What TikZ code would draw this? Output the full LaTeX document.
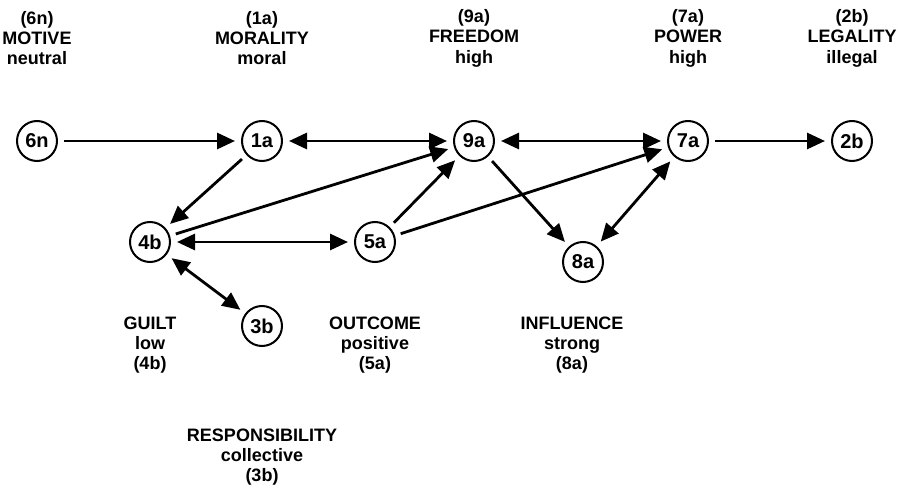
\documentclass[tikz,border=0pt]{standalone}
\usepackage{fontspec}
\setmainfont{Liberation Sans}
\usetikzlibrary{arrows.meta}

\tikzset{
  state/.style={circle, draw, line width=1pt, minimum size=20pt, inner sep=0pt,
    font=\bfseries\fontsize{10}{10}\selectfont},
  caption/.style={align=center, font=\bfseries\fontsize{9}{10.2}\selectfont},
  link/.style={line width=1.4pt, shorten >=3pt, shorten <=3pt},
  >={Triangle[length=9pt,width=8pt]}
}

\begin{document}
\begin{tikzpicture}[x=0.5pt, y=-0.5pt]
    \useasboundingbox (0,0) rectangle (901,498);

    % Nodes
    \node[state] at (37, 141) (6n) {6n};
    \node[state] at (262, 141) (1a) {1a};
    \node[state] at (474, 141) (9a) {9a};
    \node[state] at (688, 141) (7a) {7a};
    \node[state] at (852, 141) (2b) {2b};
    \node[state] at (150, 242) (4b) {4b};
    \node[state] at (375, 242) (5a) {5a};
    \node[state] at (583, 262) (8a) {8a};
    \node[state] at (262, 326) (3b) {3b};

    % Captions
    \node[caption] at (37, 38) (motive) {(6n)\\MOTIVE\\neutral};
    \node[caption] at (262, 38) (morality) {(1a)\\MORALITY\\moral};
    \node[caption] at (474, 38) (freedom) {(9a)\\FREEDOM\\high};
    \node[caption] at (688, 38) (power) {(7a)\\POWER\\high};
    \node[caption] at (852, 38) (legality) {(2b)\\LEGALITY\\illegal};
    \node[caption] at (150, 345) (guilt) {GUILT\\low\\(4b)};
    \node[caption] at (375, 345) (outcome) {OUTCOME\\positive\\(5a)};
    \node[caption] at (572, 345) (influence) {INFLUENCE\\strong\\(8a)};
    \node[caption] at (262, 457) (responsibility) {RESPONSIBILITY\\collective\\(3b)};

    % Links
    \draw[link, ->] (6n) edge (1a);
    \draw[link, <->] (1a) edge (9a);
    \draw[link, <->] (9a) edge (7a);
    \draw[link, ->] (7a) edge (2b);
    \draw[link, ->] (1a) edge (4b);
    \draw[link, ->] (4b) edge (9a);
    \draw[link, <->] (4b) edge (5a);
    \draw[link, <->] (4b) edge (3b);
    \draw[link, ->] (5a) edge (9a);
    \draw[link, ->] (5a) edge (7a);
    \draw[link, ->] (9a) edge (8a);
    \draw[link, <->] (8a) edge (7a);

\end{tikzpicture}
\end{document}
